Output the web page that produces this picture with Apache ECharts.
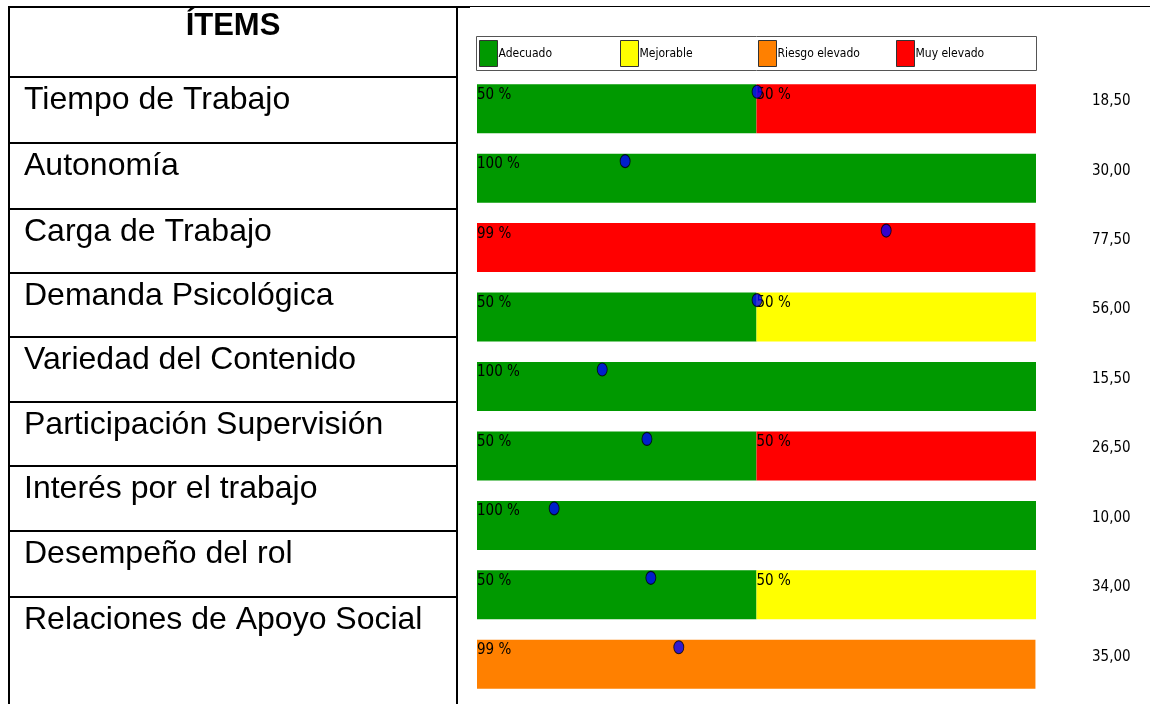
<!DOCTYPE html>
<html>
<head>
<meta charset="utf-8">
<title>ITEMS</title>
<script src="https://cdn.jsdelivr.net/npm/echarts@6/dist/echarts.min.js"></script>
<style>
  html, body { margin: 0; padding: 0; background: #fff; }
  #main { width: 1150px; height: 704px; }
</style>
</head>
<body>
<div id="main"></div>
<script>
// items of the table (left column)
var items = ['Tiempo de Trabajo', 'Autonomía', 'Carga de Trabajo', 'Demanda Psicológica',
  'Variedad del Contenido', 'Participación Supervisión', 'Interés por el trabajo',
  'Desempeño del rol', 'Relaciones de Apoyo Social'];

var levels = ['Adecuado', 'Mejorable', 'Riesgo elevado', 'Muy elevado'];

// % of each risk level per item
var adecuado = [50, 100, 0, 50, 100, 50, 100, 50, 0];
var mejorable = [0, 0, 0, 50, 0, 0, 0, 50, 0];
var riesgo = [0, 0, 0, 0, 0, 0, 0, 0, 99.9];
var muyElevado = [50, 0, 99.9, 0, 0, 50, 0, 0, 0];

// blue marker position along the bar (0-100)
var marker = [50.1, 26.5, 73.2, 50.1, 22.4, 30.4, 13.8, 31.1, 36.1];

// score shown at the right
var scores = [18.5, 30, 77.5, 56, 15.5, 26.5, 10, 34, 35];

var narrow = "'Liberation Sans Narrow', 'DejaVu Sans Condensed', sans-serif";
var arial = '"Liberation Sans", Arial, sans-serif';

var chart = echarts.init(document.getElementById('main'));

// table drawn with graphic
var rowLines = [77, 143, 209, 273, 337, 402, 466, 531, 597];
var graphics = [
  { type: 'line', shape: { x1: 9, y1: 7, x2: 470, y2: 7 }, style: { stroke: '#000', lineWidth: 2 } },
  { type: 'line', shape: { x1: 470, y1: 6.5, x2: 1150, y2: 6.5 }, style: { stroke: '#000', lineWidth: 1 } },
  { type: 'line', shape: { x1: 9, y1: 6, x2: 9, y2: 704 }, style: { stroke: '#000', lineWidth: 2 } },
  { type: 'line', shape: { x1: 457, y1: 6, x2: 457, y2: 704 }, style: { stroke: '#000', lineWidth: 2 } },
  { type: 'text', x: 233, y: 26, style: { text: 'ÍTEMS', font: 'bold 31px ' + arial, fill: '#000', align: 'center', verticalAlign: 'middle' } },
  // legend frame
  { type: 'rect', shape: { x: 476.5, y: 36.5, width: 560, height: 34 }, style: { fill: 'none', stroke: '#555', lineWidth: 1 } }
];
for (var i = 0; i < rowLines.length; i++) {
  graphics.push({ type: 'line', shape: { x1: 9, y1: rowLines[i], x2: 457, y2: rowLines[i] }, style: { stroke: '#000', lineWidth: 2 } });
  graphics.push({ type: 'text', x: 24, y: rowLines[i] + 23, style: { text: items[i], font: '32px ' + arial, fill: '#000', align: 'left', verticalAlign: 'middle' } });
}

function pctLabel(p) {
  return p.value > 0 ? Math.floor(p.value) + ' %' : '';
}

function barSeries(name, data, color) {
  return {
    name: name,
    type: 'bar',
    stack: 'total',
    barWidth: 49,
    data: data,
    itemStyle: { color: color },
    label: {
      show: true,
      position: [0, 3],
      formatter: pctLabel,
      fontFamily: narrow,
      fontSize: 15,
      color: '#000',
      align: 'left',
      verticalAlign: 'top'
    },
    emphasis: { disabled: true }
  };
}

var dots = [];
for (var j = 0; j < marker.length; j++) {
  dots.push([marker[j], j]);
}

// one legend per level so each sits in its own quarter of the frame
var legendLeft = [479, 620, 758, 896];
var legends = levels.map(function (name, k) {
  return {
    data: [name],
    left: legendLeft[k],
    top: 40,
    padding: 0,
    itemWidth: 18,
    itemHeight: 26,
    itemGap: 0,
    icon: 'rect',
    itemStyle: { borderColor: '#333', borderWidth: 1 },
    textStyle: { fontFamily: narrow, fontSize: 12, color: '#000', padding: [0, 0, 8, -4] },
    selectedMode: false
  };
});

var option = {
  animation: false,
  backgroundColor: '#fff',
  graphic: graphics,
  legend: legends,
  grid: { left: 477, right: 114, top: 74, height: 625 },
  xAxis: { type: 'value', min: 0, max: 100, show: false },
  yAxis: [
    { type: 'category', data: items, inverse: true, show: false },
    {
      type: 'category',
      data: scores.map(function (v) { return v.toFixed(2).replace('.', ','); }),
      inverse: true,
      position: 'right',
      axisLine: { show: false },
      axisTick: { show: false },
      axisLabel: { margin: 56, align: 'left', verticalAlign: 'bottom', fontFamily: narrow, fontSize: 15, color: '#000' }
    }
  ],
  series: [
    barSeries(levels[0], adecuado, '#009900'),
    barSeries(levels[1], mejorable, '#ffff00'),
    barSeries(levels[2], riesgo, '#ff8000'),
    barSeries(levels[3], muyElevado, '#ff0000'),
    {
      type: 'scatter',
      data: dots,
      symbol: 'circle',
      symbolSize: [10, 13],
      symbolOffset: [0, -17],
      itemStyle: { color: '#0000ff', borderColor: '#000', borderWidth: 1 },
      z: 10
    }
  ]
};
chart.setOption(option);
</script>
</body>
</html>
